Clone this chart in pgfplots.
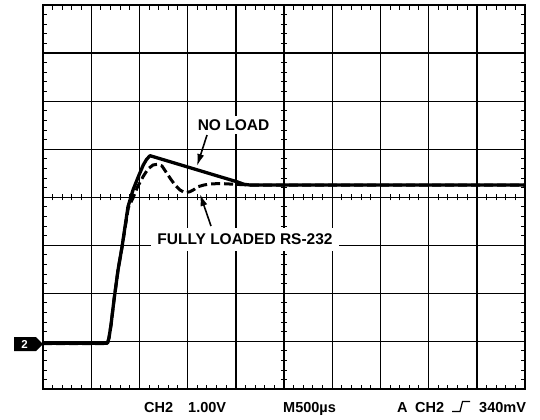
\documentclass[border=0pt]{standalone}
\usepackage{fontspec}
\setmainfont{Liberation Sans}
\usepackage{pgfplots}
\pgfplotsset{compat=1.18}
\usetikzlibrary{arrows.meta}
\begin{document}
\begin{tikzpicture}[x=1bp,y=1bp]
\path[use as bounding box, fill=white] (0,0) rectangle (540,419);
\begin{axis}[at={(43bp,29.8bp)}, anchor=south west, scale only axis,
  width=482bp, height=384bp, xmin=0, xmax=10, ymin=-4, ymax=4,
  xtick={0,...,10}, ytick={-4,...,4}, xticklabels={}, yticklabels={},
  grid=major, major grid style={black, line width=1.4bp},
  major tick length=0pt, minor x tick num=4, minor y tick num=4,
  minor tick length=4.5bp, tick align=inside, xtick pos=both, ytick pos=both,
  minor tick style={black, line width=1bp},
  axis line style={black, line width=2bp}]
\addplot[black, line width=3.3bp, line join=round] coordinates {
(0,-3.04) (1.338,-3.04) (1.369,-2.93) (1.411,-2.66) (1.473,-2.14)
(1.556,-1.52) (1.639,-1.04) (1.763,-0.20) (1.867,0.15) (1.977,0.427)
(2.08,0.67) (2.147,0.785) (2.22,0.865) (3.195,0.571) (3.672,0.427)
(4.019,0.323) (4.17,0.269) (4.295,0.254) (10,0.254)};
\addplot[black, line width=3bp, line join=round, dash pattern=on 9bp off 4bp] coordinates {
(0,-3.05) (1.338,-3.05) (1.369,-2.93) (1.411,-2.66) (1.473,-2.14)
(1.556,-1.52) (1.639,-1.04) (1.77,-0.22) (1.867,-0.017) (1.963,0.219)
(2.075,0.427) (2.178,0.588) (2.282,0.671) (2.371,0.685) (2.469,0.65)
(2.566,0.504) (2.656,0.369) (2.739,0.254) (2.842,0.15) (2.946,0.094)
(3.05,0.115) (3.133,0.16) (3.216,0.219) (3.34,0.254) (3.465,0.275)
(3.672,0.285) (3.983,0.269) (4.295,0.254) (10,0.254)};
\end{axis}
\begin{axis}[at={(43bp,29.8bp)}, anchor=south west, scale only axis,
  width=482bp, height=384bp, xmin=-5, xmax=5, ymin=-4, ymax=4,
  axis lines=middle, x axis line style={-}, y axis line style={-},
  axis line style={black, line width=1.4bp},
  xtick={-4.8,-4.6,...,4.81}, ytick={-3.8,-3.6,...,3.81},
  xticklabels={}, yticklabels={}, major tick length=6.5bp, tick align=center,
  tick style={black, line width=1bp},
  hide obscured x ticks=false, hide obscured y ticks=false]
\end{axis}
\node[fill=white, inner xsep=3bp, inner ysep=4bp, font=\bfseries\fontsize{15.5bp}{18bp}\selectfont] at (233.5,294) {NO LOAD};
\node[fill=white, inner xsep=6bp, inner ysep=6bp, font=\bfseries\fontsize{15.5bp}{18bp}\selectfont] at (245,180) {FULLY LOADED RS-232};
\draw[line width=1.6bp, -{Latex[length=12bp,width=7bp]}] (207,284) -- (197,253);
\draw[line width=1.6bp, -{Latex[length=12bp,width=7bp]}] (211,193) -- (200,225);
\fill[black] (14,68) -- (36,68) -- (43,75) -- (36,82) -- (14,82) -- cycle;
\node[white, inner sep=0, font=\bfseries\fontsize{11.5bp}{12bp}\selectfont] at (24.5,75) {2};
\begin{scope}[every node/.style={anchor=base west, inner sep=0, font=\bfseries\fontsize{14.5bp}{16bp}\selectfont}]
\node at (144,7) {CH2};
\node at (188,7) {1.00V};
\node at (283,7) {M500µs};
\node at (397,7) {A};
\node at (415,7) {CH2};
\node at (479,7) {340mV};
\end{scope}
\draw[line width=1.2bp] (452,7.5) -- (460,7.5) -- (462.5,17.5) -- (470,17.5);
\end{tikzpicture}
\end{document}
